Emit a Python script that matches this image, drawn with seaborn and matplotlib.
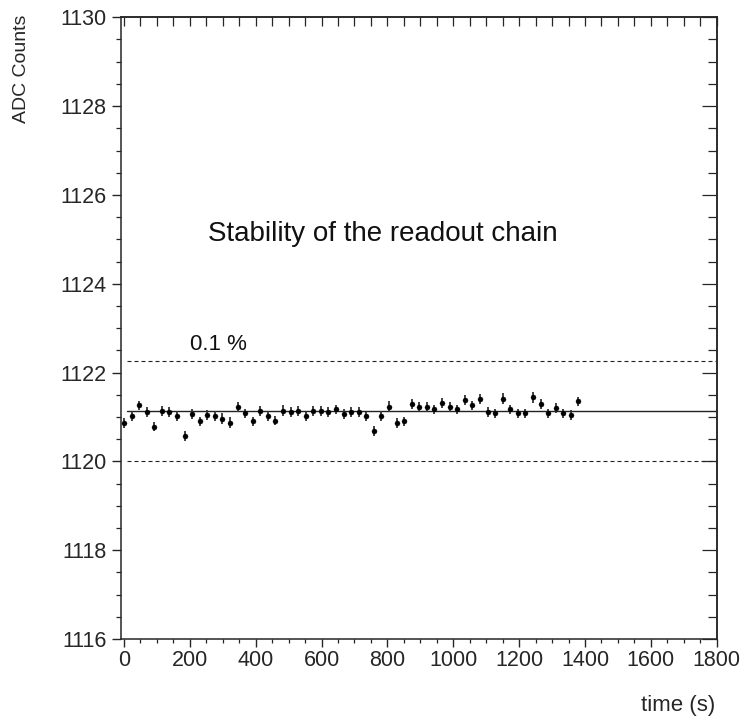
import matplotlib
matplotlib.use("Agg")
import matplotlib.pyplot as plt
from matplotlib.ticker import MultipleLocator
import seaborn as sns
import numpy as np
import pandas as pd

# ---- data ----
times = [0, 23, 46, 69, 92, 115, 138, 161, 184, 207,
         230, 253, 276, 299, 322, 345, 368, 391, 414, 437,
         460, 483, 506, 529, 552, 575, 598, 621, 644, 667,
         690, 713, 736, 759, 782, 805, 828, 851, 874, 897,
         920, 943, 966, 989, 1012, 1035, 1058, 1081, 1104, 1127,
         1150, 1173, 1196, 1219, 1242, 1265, 1288, 1311, 1334, 1357,
         1380]
counts = [1120.87, 1121.02, 1121.26, 1121.11, 1120.78, 1121.14, 1121.12, 1121.02, 1120.57, 1121.06,
          1120.90, 1121.05, 1121.02, 1120.96, 1120.87, 1121.23, 1121.08, 1120.90, 1121.14, 1121.02,
          1120.92, 1121.14, 1121.12, 1121.14, 1121.02, 1121.14, 1121.14, 1121.11, 1121.17, 1121.06,
          1121.11, 1121.12, 1121.02, 1120.69, 1121.02, 1121.23, 1120.87, 1120.90, 1121.29, 1121.23,
          1121.23, 1121.17, 1121.32, 1121.23, 1121.17, 1121.38, 1121.26, 1121.41, 1121.11, 1121.08,
          1121.41, 1121.17, 1121.08, 1121.08, 1121.44, 1121.29, 1121.08, 1121.20, 1121.08, 1121.05,
          1121.35]
errors = [0.11, 0.11, 0.10, 0.11, 0.10, 0.11, 0.11, 0.11, 0.11, 0.11,
          0.10, 0.11, 0.11, 0.12, 0.12, 0.11, 0.11, 0.11, 0.11, 0.11,
          0.10, 0.12, 0.11, 0.11, 0.10, 0.11, 0.11, 0.11, 0.11, 0.11,
          0.11, 0.11, 0.10, 0.11, 0.11, 0.12, 0.11, 0.11, 0.12, 0.11,
          0.11, 0.10, 0.11, 0.11, 0.11, 0.11, 0.10, 0.11, 0.11, 0.11,
          0.12, 0.11, 0.11, 0.11, 0.12, 0.11, 0.11, 0.11, 0.10, 0.11,
          0.11]
mean_level = 1121.13
band_fraction = 0.001
line_start = 10

x_major = [0, 200, 400, 600, 800, 1000, 1200, 1400, 1600, 1800]
y_major = [1116, 1118, 1120, 1122, 1124, 1126, 1128, 1130]
title_text = "Stability of the readout chain"
band_text = "0.1 %"
xlabel_text = "time (s)"
ylabel_text = "ADC Counts"

df = pd.DataFrame({"time": times, "adc": counts, "err": errors})

sns.set_style("ticks")
plt.rcParams["font.family"] = ["Liberation Sans", "DejaVu Sans"]
plt.rcParams["axes.linewidth"] = 1.1

fig = plt.figure(figsize=(7.47, 7.17), dpi=100)
ax = fig.add_axes([0.1616, 0.1088, 0.7978, 0.8671])

xmin, xmax = -10, 1800
ymin, ymax = 1116, 1130
ax.set_xlim(xmin, xmax)
ax.set_ylim(ymin, ymax)

# reference lines
frac0 = (line_start - xmin) / (xmax - xmin)
ax.axhline(mean_level, xmin=frac0, xmax=1, color="#222222", lw=1.0, zorder=1)
ax.axhline(mean_level * (1 - band_fraction), xmin=frac0, xmax=1, color="#222222",
           lw=0.8, ls=(0, (3.6, 2.7)), zorder=1)
ax.axhline(mean_level * (1 + band_fraction), xmin=frac0, xmax=1, color="#222222",
           lw=0.8, ls=(0, (3.6, 2.7)), zorder=1)

# data
ax.errorbar(df["time"], df["adc"], yerr=df["err"], fmt="none", ecolor="#333333",
            elinewidth=1.3, capsize=0, zorder=2)
sns.scatterplot(data=df, x="time", y="adc", marker="o", s=13, color="black",
                edgecolor="black", linewidth=0.3, ax=ax, zorder=3, legend=False)

ax.set_xlabel("")
ax.set_ylabel("")

# ticks
ax.set_xticks(x_major)
ax.set_yticks(y_major)
ax.xaxis.set_minor_locator(MultipleLocator(50))
ax.yaxis.set_minor_locator(MultipleLocator(0.5))
ax.tick_params(axis="x", which="major", direction="out", length=5.8, width=1.0,
               top=False, labelsize=15.5, pad=2)
ax.tick_params(axis="x", which="minor", direction="out", length=2.9, width=0.9, top=False)
ax.tick_params(axis="y", which="major", direction="out", length=6.5, width=1.0,
               right=False, labelsize=15.5, pad=3.5)
ax.tick_params(axis="y", which="minor", direction="out", length=3.6, width=0.9, right=False)

secx = ax.secondary_xaxis("top")
secx.set_xticks(x_major)
secx.xaxis.set_minor_locator(MultipleLocator(50))
secx.tick_params(axis="x", which="both", direction="in", length=6.5, width=0.9,
                 labeltop=False)
secx.spines["top"].set_linewidth(1.1)

secy = ax.secondary_yaxis("right")
secy.set_yticks(y_major)
secy.yaxis.set_minor_locator(MultipleLocator(0.5))
secy.tick_params(axis="y", which="major", direction="in", length=11, width=0.9,
                 labelright=False)
secy.tick_params(axis="y", which="minor", direction="in", length=6.5, width=0.9,
                 labelright=False)
secy.spines["right"].set_linewidth(1.1)

# texts
ax.text(786, 1125.12, title_text, ha="center", va="center", fontsize=20, color="#111111")
ax.text(200, 1122.64, band_text, ha="left", va="center", fontsize=16, color="#111111")
fig.text(715 / 747, 1 - 706 / 717, xlabel_text, ha="right", va="center", fontsize=16)
fig.text(22 / 747, 1 - 15 / 717, ylabel_text, ha="center", va="top", rotation=90,
         fontsize=14)

fig.savefig("out.png", dpi=100)
